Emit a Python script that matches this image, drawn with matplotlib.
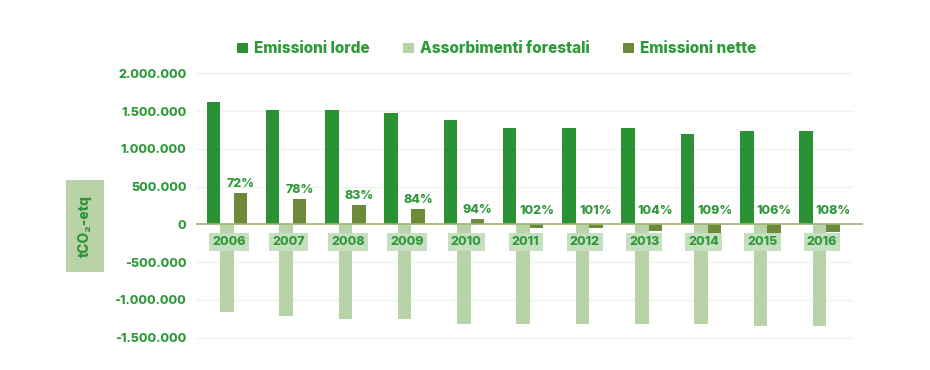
import matplotlib
matplotlib.use("Agg")
import matplotlib.pyplot as plt
import numpy as np
from matplotlib.patches import Rectangle
from matplotlib.ticker import FuncFormatter

plt.rcParams["font.family"] = ["Inter", "DejaVu Sans"]
plt.rcParams["font.weight"] = "heavy"

YEARS = ["2006", "2007", "2008", "2009", "2010", "2011",
         "2012", "2013", "2014", "2015", "2016"]
EMISSIONI_LORDE = [1613000, 1516000, 1516000, 1472000, 1383000, 1273000,
                   1273000, 1273000, 1194000, 1241000, 1241000]
ASSORBIMENTI = [-1159000, -1212000, -1260000, -1260000, -1326000, -1326000,
                -1326000, -1326000, -1326000, -1349000, -1349000]
EMISSIONI_NETTE = [419000, 336000, 256000, 203000, 74000, -45000,
                   -49000, -84000, -141000, -120000, -106000]
PERCENT_LABELS = ["72%", "78%", "83%", "84%", "94%", "102%",
                  "101%", "104%", "109%", "106%", "108%"]
Y_TICKS = [-1500000, -1000000, -500000, 0, 500000, 1000000, 1500000, 2000000]

COL_LORDE = "#2a9134"
COL_ASSORB = "#b9d3a8"
COL_NETTE = "#6c8a3a"
COL_TEXT = "#2f9a3a"
COL_GRID = "#edf5ea"
COL_ZERO = "#9cb46e"
WEIGHT = "heavy"


def thousands(v, _pos):
    s = f"{abs(int(v)):,}".replace(",", ".")
    return "-" + s if v < 0 else s


fig = plt.figure(figsize=(9.3, 3.7), dpi=100)
ax = fig.add_axes([0.2108, 0.0878, 0.717, 0.7142])

x = np.arange(len(YEARS), dtype=float)
width = 0.228

ax.bar(x - width, EMISSIONI_LORDE, width=width, color=COL_LORDE,
       label="Emissioni lorde", zorder=3)
ax.bar(x, ASSORBIMENTI, width=width, color=COL_ASSORB,
       label="Assorbimenti forestali", zorder=3)
ax.bar(x + width, EMISSIONI_NETTE, width=width, color=COL_NETTE,
       label="Emissioni nette", zorder=3)

ax.set_xlim(-0.52, 10.73)
ax.set_ylim(-1500000, 2000000)

# light grid lines, stopping short of the right end
ax.hlines([t for t in Y_TICKS if t != 0], -0.52, 10.57, color=COL_GRID,
          linewidth=1.0, zorder=1, clip_on=False)
ax.axhline(0, color=COL_ZERO, linewidth=1.2, zorder=4)

for xi, net, lab in zip(x, EMISSIONI_NETTE, PERCENT_LABELS):
    ax.annotate(lab, (xi + width, max(net, 60000)), xytext=(0, 2),
                textcoords="offset points", ha="center", va="bottom",
                fontsize=9, color=COL_TEXT, fontweight=WEIGHT, zorder=5)

for xi, year in zip(x, YEARS):
    ax.annotate(year, (xi + 0.04, 0), xytext=(0, -13),
                textcoords="offset points", ha="center", va="center",
                fontsize=9, color=COL_TEXT, fontweight=WEIGHT, zorder=6,
                bbox=dict(boxstyle="square,pad=0.25", facecolor="#c6dfc0",
                          edgecolor="none"))

ax.set_yticks(Y_TICKS)
ax.yaxis.set_major_formatter(FuncFormatter(thousands))
ax.tick_params(axis="y", length=0, pad=7, labelsize=9, labelcolor=COL_TEXT)
ax.set_xticks([])
for lbl in ax.get_yticklabels():
    lbl.set_fontweight(WEIGHT)
for spine in ax.spines.values():
    spine.set_visible(False)

# y-axis label box
fig.patches.append(Rectangle((66 / 930, 1 - 272 / 370), 38 / 930, 92 / 370,
                             transform=fig.transFigure, facecolor="#b9d3a6",
                             edgecolor="none"))
fig.text(85 / 930, 1 - 226 / 370, "tCO₂-etq", rotation=90, ha="center",
         va="center", fontsize=10, color="#2e9438", fontweight=WEIGHT)

handles, labels = ax.get_legend_handles_labels()
leg = fig.legend(handles, labels, loc="center", ncol=3,
                 bbox_to_anchor=(0.534, 0.868), frameon=False,
                 prop=dict(size=11, weight=WEIGHT), handlelength=0.7,
                 handleheight=0.7, handletextpad=0.4, columnspacing=2.2)
for txt in leg.get_texts():
    txt.set_color(COL_TEXT)

fig.savefig("out.png", dpi=100)
